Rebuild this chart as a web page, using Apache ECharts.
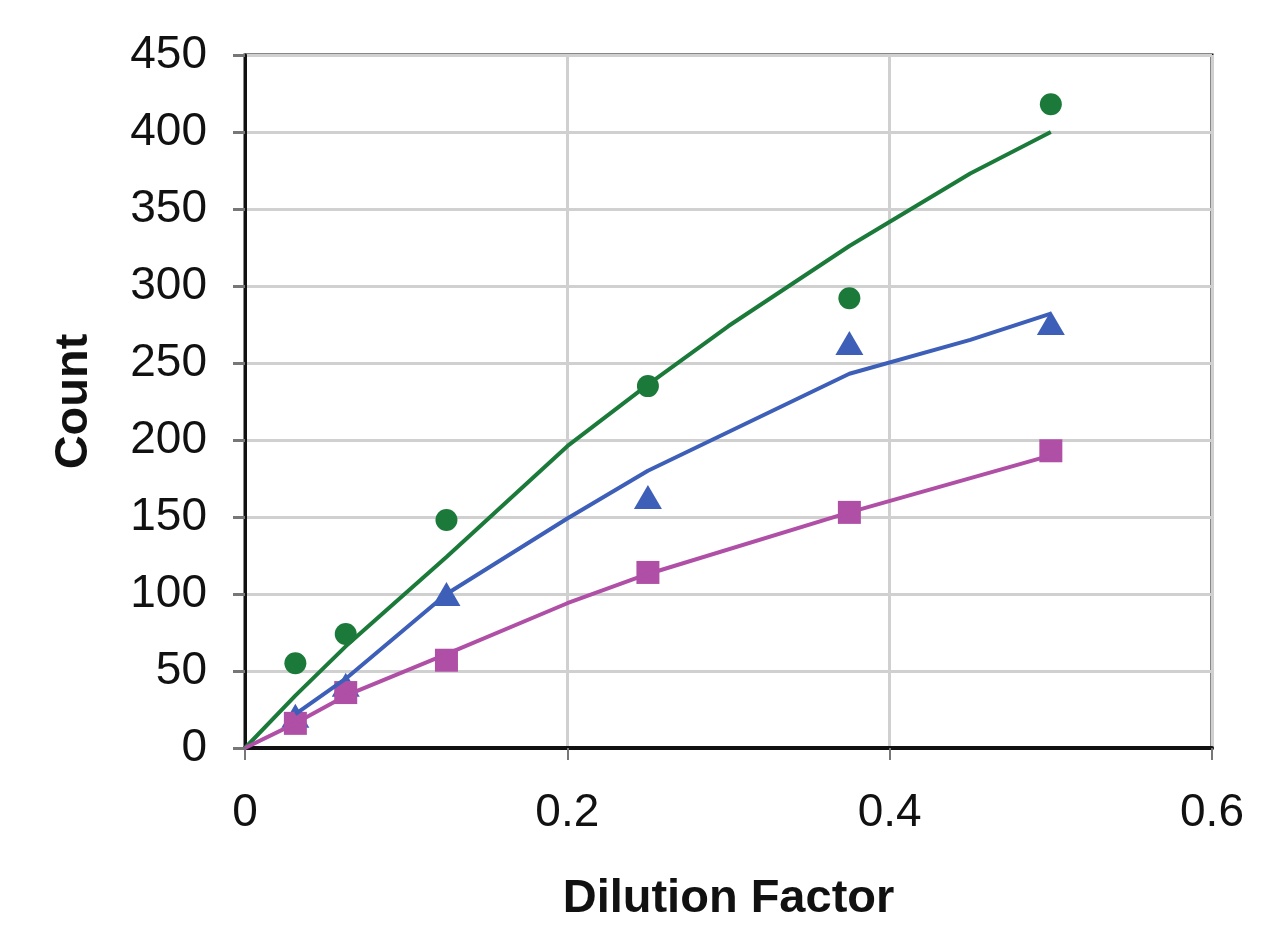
<!DOCTYPE html>
<html>
<head>
<meta charset="utf-8">
<script src="https://cdn.jsdelivr.net/npm/echarts@6/dist/echarts.min.js"></script>
<style>
  html, body { margin: 0; padding: 0; background: #fff; }
  #chart { width: 1268px; height: 928px; }
</style>
</head>
<body>
<div id="chart"></div>
<script>
// Dilution factors (x values of measured points)
const dilution = [0.03125, 0.0625, 0.125, 0.25, 0.375, 0.5];

// Measured counts
const greenCounts = [55, 74, 148, 235, 292, 418];
const blueCounts  = [21, 41, 100, 163, 263, 276];
const pinkCounts  = [16, 36, 57, 114, 153, 193];

// Fitted curves (x, y pairs)
const greenFitX = [0, 0.03125, 0.0625, 0.125, 0.2, 0.25, 0.3, 0.375, 0.45, 0.5];
const greenFitY = [0, 34, 66, 124, 196, 236, 274, 326, 373, 400];
const blueFitX  = [0.03125, 0.0625, 0.125, 0.2, 0.25, 0.375, 0.45, 0.5];
const blueFitY  = [22, 45, 100, 149, 180, 243, 265, 282];
const pinkFitX  = [0, 0.03125, 0.0625, 0.125, 0.2, 0.25, 0.375, 0.5];
const pinkFitY  = [0, 16, 34, 61, 94, 113, 153, 190];

// Axis ticks
const xTicks = [0, 0.2, 0.4, 0.6];
const yTicks = [0, 50, 100, 150, 200, 250, 300, 350, 400, 450];

const GREEN = '#1b7a3a', BLUE = '#3d5fb8', PINK = '#b04fa6';
const FONT = '"Liberation Sans", Arial, sans-serif';

const zip = (xs, ys) => xs.map((x, i) => [x, ys[i]]);

const chart = echarts.init(document.getElementById('chart'));
chart.setOption({
  animation: false,
  backgroundColor: '#fff',
  grid: {
    left: 245, right: 56, top: 55, bottom: 175,
    show: true, borderColor: '#111', borderWidth: 3, backgroundColor: '#fff'
  },
  xAxis: {
    type: 'value',
    min: xTicks[0], max: xTicks[xTicks.length - 1], interval: 0.2,
    name: 'Dilution Factor', nameLocation: 'middle', nameGap: 128,
    nameTextStyle: { fontFamily: FONT, fontSize: 47, fontWeight: 'bold', color: '#111' },
    axisLine: { show: true, lineStyle: { color: '#111', width: 4 } },
    axisTick: { show: true, length: 12, lineStyle: { color: '#777', width: 2 } },
    axisLabel: { margin: 42, fontFamily: FONT, fontSize: 46, color: '#111',
      formatter: v => String(Math.round(v * 10) / 10) },
    splitLine: { show: true, lineStyle: { color: '#d0d0d0', width: 3 } }
  },
  yAxis: {
    type: 'value',
    min: yTicks[0], max: yTicks[yTicks.length - 1], interval: 50,
    name: 'Count', nameLocation: 'middle', nameGap: 147,
    nameTextStyle: { fontFamily: FONT, fontSize: 47, fontWeight: 'bold', color: '#111' },
    axisLine: { show: true, lineStyle: { color: '#111', width: 3 } },
    axisTick: { show: true, length: 12, lineStyle: { color: '#777', width: 3 } },
    axisLabel: { margin: 38, fontFamily: FONT, fontSize: 46, color: '#111' },
    splitLine: { show: true, lineStyle: { color: '#d0d0d0', width: 3 } }
  },
  series: [
    { type: 'scatter', data: zip(dilution, greenCounts), symbol: 'circle', symbolSize: 22,
      itemStyle: { color: GREEN, opacity: 1 }, z: 2 },
    { type: 'scatter', data: zip(dilution, blueCounts), symbol: 'triangle', symbolSize: [28, 24],
      itemStyle: { color: BLUE, opacity: 1 }, z: 2 },
    { type: 'scatter', data: zip(dilution, pinkCounts), symbol: 'rect', symbolSize: 23,
      itemStyle: { color: PINK, opacity: 1 }, z: 2 },
    { type: 'line', data: zip(greenFitX, greenFitY), showSymbol: false, symbol: 'none',
      lineStyle: { color: GREEN, width: 4 }, z: 3 },
    { type: 'line', data: zip(blueFitX, blueFitY), showSymbol: false, symbol: 'none',
      lineStyle: { color: BLUE, width: 4 }, z: 3 },
    { type: 'line', data: zip(pinkFitX, pinkFitY), showSymbol: false, symbol: 'none',
      lineStyle: { color: PINK, width: 4 }, z: 3 }
  ]
});
</script>
</body>
</html>
